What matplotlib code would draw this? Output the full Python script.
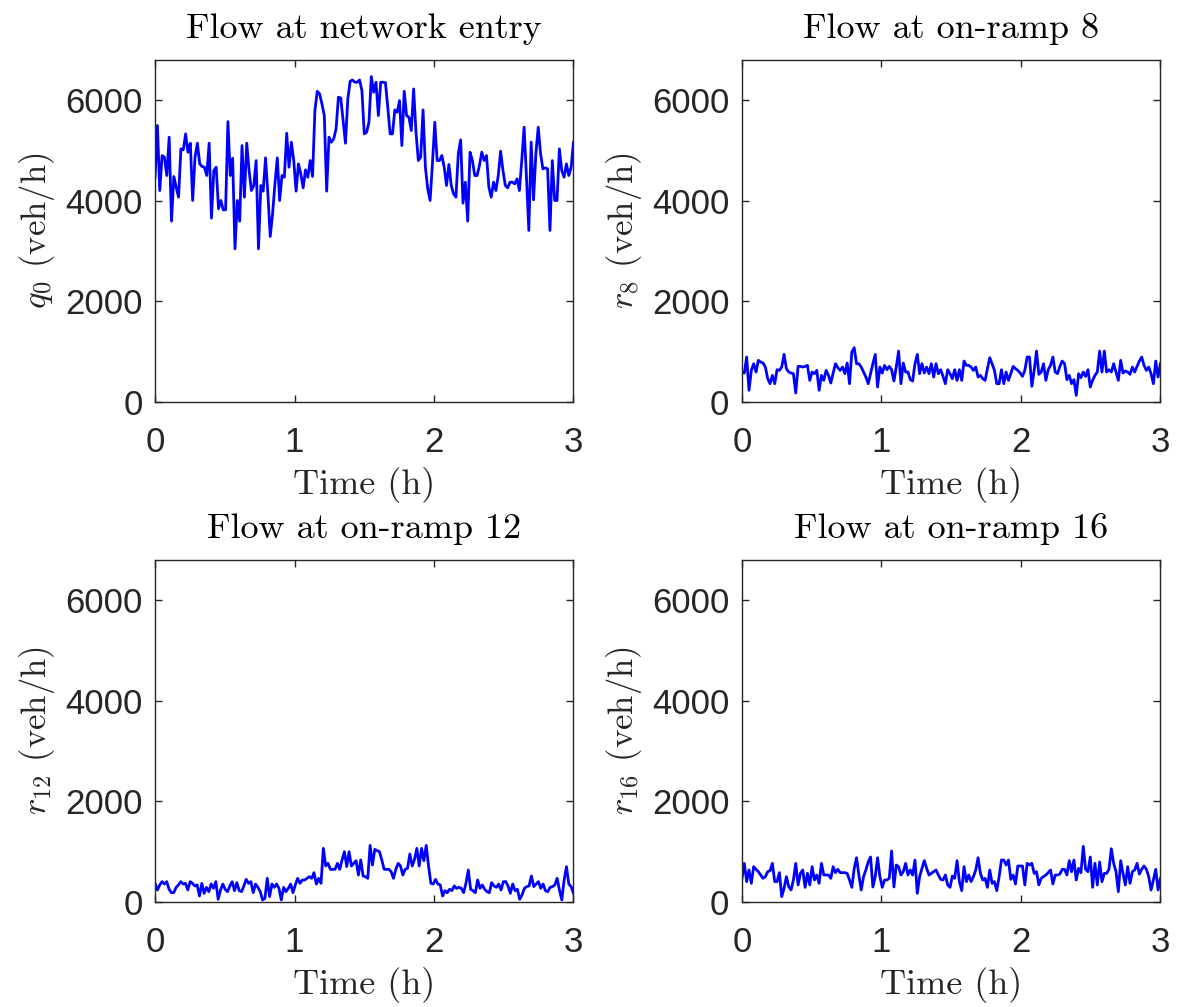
import numpy as np
import matplotlib
matplotlib.use('Agg')
import matplotlib.pyplot as plt

plt.rcParams['font.family'] = ['Liberation Sans', 'DejaVu Sans']
plt.rcParams['mathtext.fontset'] = 'cm'
plt.rcParams['axes.unicode_minus'] = False

# flow at network entry, q0 (veh/h), one sample per minute
q0 = [4470, 5497, 4205, 4900, 4867, 4503, 5265, 3596, 4483, 4272, 4073, 5033, 5013, 5331,
      4967, 5146, 4007, 4867, 5146, 4735, 4682, 4669, 4503, 5146, 3656, 4603, 4669, 3841,
      4007, 3821, 3821, 5576, 4503, 4848, 3046, 4007, 3596, 5099, 4073, 5146, 4603, 4205,
      4305, 4801, 3046, 4305, 4192, 4854, 4139, 3291, 3742, 4338, 4854, 4007, 4503, 4470,
      5344, 4669, 5166, 4801, 4192, 4735, 4536, 4258, 4616, 4470, 4801, 4483, 5795, 6179,
      6126, 5927, 5695, 4192, 5265, 5166, 5232, 5430, 6060, 6046, 5596, 5146, 6026, 6377,
      6404, 6358, 6358, 6404, 6192, 5331,
      5364, 5563, 6470, 6159, 6358, 5695, 6358, 6358, 6351, 5861, 5331, 5331, 5808, 5762,
      5993, 5099, 6179, 5695, 5662, 5397, 6225, 5364, 4801, 4867, 5808, 4669, 4238, 4007,
      4735, 5563, 4801, 4801, 4901, 4669, 4305, 4722, 4305, 4139, 4073, 4934, 5212, 3954,
      4371, 3596, 4967, 4801, 4503, 4503, 4702, 4967, 4801, 4901, 4272, 4073, 4371, 4205,
      4503, 4987, 4603, 4305, 4258, 4371, 4371, 4338, 4437, 4205, 4801, 5464, 4470, 3411,
      5166, 4020, 4934, 5464, 4934, 4636, 4656, 4636, 3411, 4801, 4007, 4007, 5033, 4603,
      4470, 4735, 4503, 4669, 5166]

# on-ramp 8
r8 = [596, 576, 894, 232, 629, 761, 596, 828, 795, 775, 695, 463, 364, 530, 364, 642, 629,
      695, 947, 662, 596, 576, 563, 179, 708, 708, 695, 708, 728, 430, 596, 563, 629, 232,
      530, 430, 629, 530, 377, 576, 761, 682, 629, 695, 563, 775, 364, 993, 1079, 761, 761,
      695, 596, 497, 364, 563, 761, 947, 298, 695, 576, 728, 642, 708, 642, 417, 695, 1013,
      364, 775, 596, 596, 444, 417, 761, 947, 563, 761, 576, 695, 563, 761, 497, 761, 563,
      642, 510, 364, 642,
      563, 463, 642, 430, 642, 430, 814, 728, 728, 695, 629, 695, 497, 530, 463, 430, 662,
      880, 761, 629, 364, 364, 642, 364, 596, 430, 563, 708, 662, 629, 576, 510, 629, 894,
      894, 311, 629, 1013, 550, 596, 761, 430, 642, 728, 894, 596, 563, 708, 814, 761, 444,
      530, 364, 444, 132, 563, 483, 596, 510, 642, 298, 430, 530, 596, 1013, 596, 1013, 596,
      642, 596, 761, 596, 430, 828, 576, 616, 596, 550, 695, 596, 708, 814, 894, 728, 629,
      695, 563, 364, 814, 497, 761]

# on-ramp 12
r12 = [371, 238, 338, 404, 357, 404, 252, 185, 185, 291, 338, 404, 357, 371, 238, 404, 371,
       318, 338, 119, 371, 172, 291, 205, 357, 271, 404, 53, 238, 357, 252, 205, 318, 404,
       225, 384, 225, 205, 318, 450, 371, 404, 185, 357, 291, 205, 40, 73, 470, 106, 357,
       291, 357, 271, 40, 291, 205, 271, 357, 185, 338, 470, 371, 437, 437, 470, 503, 470,
       583, 357, 470, 371, 1066, 715, 768, 649, 649, 649, 768, 649, 834, 1000, 702, 1000,
       715, 768, 821, 536, 834, 516,
       503, 470, 1125, 735, 1046, 1020, 1000, 834, 649, 649, 649, 602, 470, 649, 768, 715,
       536, 649, 669, 953, 715, 847, 1066, 715, 1066, 821, 1125, 715, 371, 357, 450, 357,
       338, 119, 225, 185, 252, 225, 318, 271, 291, 271, 185, 371, 636, 252, 225, 185, 437,
       271, 338, 252, 205, 185, 384, 318, 291, 357, 238, 404, 404, 318, 172, 357, 225, 252,
       53, 139, 271, 305, 318, 516, 305, 357, 404, 271, 357, 225, 205, 291, 305, 338, 470,
       238, 40, 437, 702, 357, 305, 172]

# on-ramp 16
r16 = [470, 768, 404, 636, 371, 702, 649, 602, 536, 470, 503, 602, 622, 768, 404, 404, 583,
       106, 271, 503, 305, 238, 437, 768, 338, 569, 636, 291, 569, 338, 702, 437, 536, 371,
       768, 536, 536, 536, 470, 702, 583, 649, 583, 583, 583, 569, 437, 291, 662, 880, 536,
       238, 503, 636, 795, 894, 298, 503, 880, 503, 291, 437, 437, 470, 1013, 298, 735, 702,
       536, 602, 768, 536, 636, 536, 834, 172, 503, 669, 821, 669, 536, 569, 602, 636, 536,
       450, 437, 536, 338, 291,
       516, 470, 821, 404, 225, 702, 404, 536, 404, 503, 636, 880, 569, 437, 470, 291, 636,
       371, 404, 225, 503, 834, 834, 735, 834, 450, 536, 357, 715, 715, 715, 338, 768, 735,
       768, 569, 602, 338, 470, 503, 536, 583, 636, 357, 536, 536, 556, 649, 649, 536, 821,
       602, 834, 437, 669, 583, 1106, 649, 602, 894, 291, 768, 338, 795, 404, 569, 569, 649,
       1059, 768, 602, 205, 821, 569, 338, 702, 371, 602, 636, 768, 556, 649, 715, 649, 503,
       238, 437, 649, 238, 470]

series = [q0, r8, r12, r16]
titles = ['Flow at network entry', 'Flow at on-ramp 8',
          'Flow at on-ramp 12', 'Flow at on-ramp 16']
ylabels = [r'$q_0$ (veh/h)', r'$r_8$ (veh/h)', r'$r_{12}$ (veh/h)', r'$r_{16}$ (veh/h)']

fig = plt.figure(figsize=(11.8, 10.07), dpi=100)
lefts = [0.1314, 0.6288]
bottoms = [0.6008, 0.1043]
ink = '#262626'
serif = 'cmr10'

for i, (vals, title, ylab) in enumerate(zip(series, titles, ylabels)):
    ax = fig.add_axes([lefts[i % 2], bottoms[i // 2], 0.3546, 0.3396])
    t = np.linspace(0, 3, len(vals))
    ax.plot(t, vals, color='#0000ff', lw=2.0)
    ax.set_xlim(0, 3)
    ax.set_ylim(0, 6800)
    ax.set_xticks([0, 1, 2, 3])
    ax.set_yticks([0, 2000, 4000, 6000])
    ax.tick_params(direction='in', length=5, width=1, top=True, right=True,
                   labelsize=25, colors=ink)
    ax.tick_params(axis='x', pad=17)
    ax.tick_params(axis='y', pad=9)
    for sp in ax.spines.values():
        sp.set_color(ink)
        sp.set_linewidth(1)
    ax.set_title(title, fontsize=26, family=serif, pad=16)
    ax.set_xlabel('Time (h)', fontsize=26, family=serif, labelpad=6, color=ink)
    ax.set_ylabel(ylab, fontsize=25, family=serif, labelpad=6, color=ink)

fig.savefig('out.png', dpi=100)
